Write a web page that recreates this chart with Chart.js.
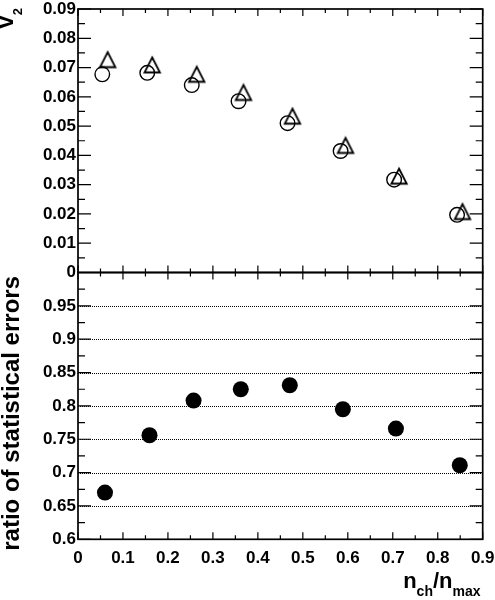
<!DOCTYPE html>
<html><head><meta charset="utf-8">
<script src="https://cdn.jsdelivr.net/npm/chart.js@4.4.1/dist/chart.umd.min.js"></script>
<style>
html,body{margin:0;padding:0;background:#fff;}
#wrap{position:relative;width:495px;height:600px;background:#fff;}
canvas{position:absolute;left:0;top:0;}
</style></head><body>
<div id="wrap"><canvas id="cTop" width="495" height="600"></canvas><canvas id="cBot" width="495" height="600"></canvas></div>
<script>
// ---- data ----
const xCircle  = [0.054, 0.154, 0.253, 0.357, 0.466, 0.584, 0.703, 0.843];
const v2Circle = [0.0677, 0.0682, 0.0640, 0.0585, 0.0510, 0.0415, 0.0317, 0.0197];
const xTriangle  = [0.066, 0.165, 0.264, 0.368, 0.477, 0.595, 0.714, 0.855];
const v2Triangle = [0.0727, 0.0709, 0.0677, 0.0615, 0.0534, 0.0434, 0.0329, 0.0208];
const xRatio = [0.060, 0.159, 0.257, 0.362, 0.471, 0.589, 0.707, 0.849];
const ratioValues = [0.670, 0.756, 0.808, 0.825, 0.831, 0.795, 0.766, 0.711];
const xTickLabels = ['0','0.1','0.2','0.3','0.4','0.5','0.6','0.7','0.8','0.9'];
const v2TickLabels = ['0','0.01','0.02','0.03','0.04','0.05','0.06','0.07','0.08','0.09'];
const ratioTickLabels = ['0.6','0.65','0.7','0.75','0.8','0.85','0.9','0.95',''];

const FAMILY = '"Liberation Sans", Arial, Helvetica, sans-serif';
const tickFont = {family: FAMILY, size: 17, weight: 'bold'};

function pts(xs, ys){ return xs.map((x,i)=>({x:x, y:ys[i]})); }

// open triangle marker (centred on its bounding box)
function makeTriangle(){
  const c = document.createElement('canvas');
  c.width = 20; c.height = 20;
  const g = c.getContext('2d');
  g.strokeStyle = '#000'; g.lineWidth = 1.8; g.lineJoin = 'miter';
  g.beginPath();
  g.moveTo(10, 2.5); g.lineTo(17.7, 17.5); g.lineTo(2.3, 17.5); g.closePath();
  g.stroke();
  return c;
}
const triImg = makeTriangle();

function framePlugin(id, cfg){
  return {
    id: id,
    beforeDatasetsDraw(chart){
      if (!cfg.grid) return;
      const ctx = chart.ctx, ca = chart.chartArea, ys = chart.scales.y;
      ctx.save();
      ctx.strokeStyle = '#000'; ctx.lineWidth = 1; ctx.setLineDash([1,1]);
      cfg.grid.forEach(v=>{
        const p = Math.round(ys.getPixelForValue(v)) + 0.5;
        ctx.beginPath(); ctx.moveTo(ca.left, p); ctx.lineTo(ca.right, p); ctx.stroke();
      });
      ctx.restore();
    },
    afterDatasetsDraw(chart){
      const ctx = chart.ctx, ca = chart.chartArea, xs = chart.scales.x, ys = chart.scales.y;
      ctx.save();
      ctx.strokeStyle = '#000'; ctx.lineWidth = 1.2;
      const ny = Math.round((cfg.ymax - cfg.ymin)/cfg.yMinor);
      for (let i=0;i<=ny;i++){
        const v = cfg.ymin + i*cfg.yMinor;
        const p = ys.getPixelForValue(v);
        const len = (i%2===0) ? 13 : 7;
        ctx.beginPath();
        ctx.moveTo(ca.left, p); ctx.lineTo(ca.left+len, p);
        ctx.moveTo(ca.right, p); ctx.lineTo(ca.right-len, p);
        ctx.stroke();
      }
      const nx = Math.round(0.9/0.05);
      for (let i=0;i<=nx;i++){
        const p = xs.getPixelForValue(i*0.05);
        const len = (i%2===0) ? 7 : 4;
        ctx.beginPath();
        ctx.moveTo(p, ca.bottom); ctx.lineTo(p, ca.bottom-len);
        ctx.moveTo(p, ca.top); ctx.lineTo(p, ca.top+len);
        ctx.stroke();
      }
      ctx.lineWidth = 1.7;
      ctx.strokeRect(ca.left, ca.top, ca.right-ca.left, ca.bottom-ca.top);
      ctx.restore();
    }
  };
}

const titlesTop = {
  id: 'titlesTop',
  afterDraw(chart){
    const ctx = chart.ctx;
    ctx.save();
    ctx.fillStyle = '#000';
    ctx.translate(13, 28.5);
    ctx.rotate(-Math.PI/2);
    ctx.textAlign = 'left'; ctx.textBaseline = 'alphabetic';
    ctx.font = 'bold 23px ' + FAMILY;
    ctx.fillText('v', 0, 0);
    const w = ctx.measureText('v').width;
    ctx.font = 'bold 13px ' + FAMILY;
    ctx.fillText('2', w + 0.5, 9);
    ctx.restore();
  }
};

const titlesBot = {
  id: 'titlesBot',
  afterDraw(chart){
    const ctx = chart.ctx;
    ctx.save();
    ctx.fillStyle = '#000';
    // y title
    ctx.save();
    ctx.translate(18.5, 276);
    ctx.rotate(-Math.PI/2);
    ctx.textAlign = 'right'; ctx.textBaseline = 'alphabetic';
    ctx.font = 'bold 24px ' + FAMILY;
    ctx.fillText('ratio of statistical errors', 0, 0);
    ctx.restore();
    // x title: n_ch / n_max, drawn right to left so it ends at the frame edge
    const big = 'bold 22px ' + FAMILY, small = 'bold 14px ' + FAMILY;
    const parts = [['n',big,0],['ch',small,8.5],['/',big,0],['n',big,0],['max',small,8.5]];
    let x = 480.5;
    const base = 587.5;
    ctx.textAlign = 'right'; ctx.textBaseline = 'alphabetic';
    for (let i = parts.length - 1; i >= 0; i--){
      const p = parts[i];
      ctx.font = p[1];
      ctx.fillText(p[0], x, base + p[2]);
      x -= ctx.measureText(p[0]).width;
    }
    ctx.restore();
  }
};

Chart.defaults.animation = false;

new Chart(document.getElementById('cTop'), {
  type: 'scatter',
  data: { datasets: [
    { data: pts(xCircle, v2Circle), pointStyle: 'circle', pointRadius: 7.3, pointBorderWidth: 1.4,
      pointBorderColor: '#000', pointBackgroundColor: 'rgba(0,0,0,0)' },
    { data: pts(xTriangle, v2Triangle), pointStyle: triImg, pointRadius: 8 }
  ]},
  options: {
    responsive: false, devicePixelRatio: 1, animation: false,
    layout: { padding: { left: 0, top: 5.5, right: 12.3, bottom: 327.5 } },
    plugins: { legend: {display:false}, tooltip: {enabled:false} },
    scales: {
      x: { type: 'linear', min: 0, max: 0.9, display: false },
      y: { type: 'linear', min: 0, max: 0.09,
           grid: {display:false, drawTicks:false}, border: {display:false},
           ticks: { stepSize: 0.01, padding: 2, color: '#000', font: tickFont, autoSkip: false,
                    callback: (v, i) => v2TickLabels[i] ?? '' },
           afterFit(s){ s.width = 78; s.paddingTop = 0; s.paddingBottom = 0; } }
    }
  },
  plugins: [framePlugin('frameTop', {ymin:0, ymax:0.09, yMinor:0.005}), titlesTop]
});

new Chart(document.getElementById('cBot'), {
  type: 'scatter',
  data: { datasets: [
    { data: pts(xRatio, ratioValues), pointStyle: 'circle', pointRadius: 8, pointBorderWidth: 0,
      pointBackgroundColor: '#000', pointBorderColor: '#000' }
  ]},
  options: {
    responsive: false, devicePixelRatio: 1, animation: false,
    layout: { padding: { left: 0, top: 272.5, right: 12.3, bottom: 0 } },
    plugins: { legend: {display:false}, tooltip: {enabled:false} },
    scales: {
      x: { type: 'linear', min: 0, max: 0.9,
           grid: {display:false, drawTicks:false}, border: {display:false},
           ticks: { stepSize: 0.1, padding: 9, color: '#000', font: tickFont, autoSkip: false,
                    maxRotation: 0, callback: (v, i) => xTickLabels[i] ?? '' },
           afterFit(s){ s.height = 60.7; s.paddingLeft = 0; s.paddingRight = 0; } },
      y: { type: 'linear', min: 0.6, max: 1.0,
           grid: {display:false, drawTicks:false}, border: {display:false},
           ticks: { stepSize: 0.05, padding: 2, color: '#000', font: tickFont, autoSkip: false,
                    callback: (v, i) => ratioTickLabels[i] ?? '' },
           afterFit(s){ s.width = 78; s.paddingTop = 0; s.paddingBottom = 0; } }
    }
  },
  plugins: [framePlugin('frameBot', {ymin:0.6, ymax:1.0, yMinor:0.025, grid:[0.65,0.7,0.75,0.8,0.85,0.9,0.95]}), titlesBot]
});
</script>
</body></html>
